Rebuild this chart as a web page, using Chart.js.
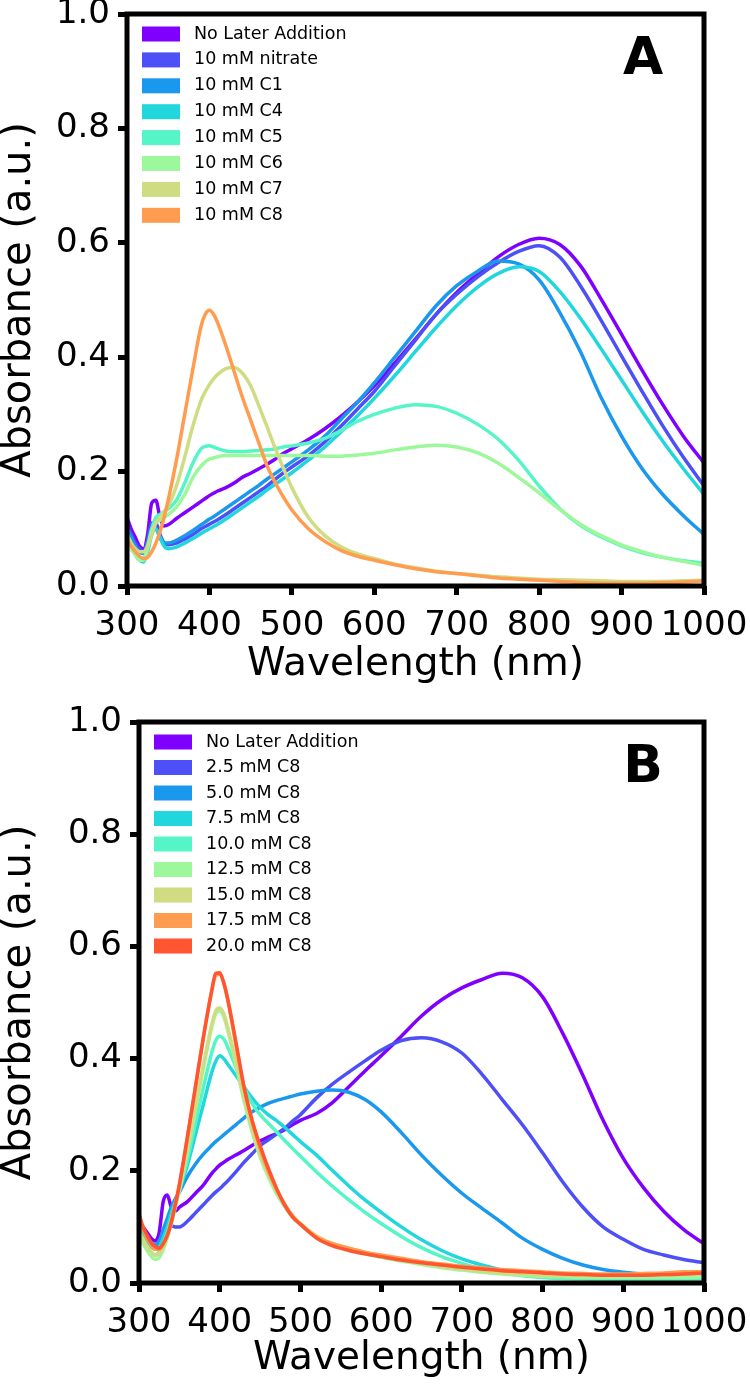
<!DOCTYPE html>
<html>
<head>
<meta charset="utf-8">
<script src="https://cdn.jsdelivr.net/npm/chart.js@4"></script>
<style>
  body { margin: 0; background: #fff; }
  canvas { display: block; }
</style>
</head>
<body>
<canvas id="chartA" width="750" height="694"></canvas>
<canvas id="chartB" width="750" height="694"></canvas>
<script>
// wavelength grid (nm), shared by every spectrum
const wavelengths = [300, 305, 310, 315, 320, 325, 330, 335, 340, 345, 350,
  360, 370, 380, 390, 395, 400, 405, 410,
  420, 430, 440, 450, 460, 470, 480, 490, 500,
  520, 540, 560, 580, 600,
  625, 650, 675, 700, 725, 750, 775, 800, 825, 850, 875, 900, 925, 950, 975, 1000]
const xTicks = [300, 400, 500, 600, 700, 800, 900, 1000]
const yTicks = [0, 0.2, 0.4, 0.6, 0.8, 1.0]

// panel A
const labelsA = ['No Later Addition', '10 mM nitrate', '10 mM C1', '10 mM C4', '10 mM C5', '10 mM C6', '10 mM C7', '10 mM C8']
const aNoAddition = [.12, .10, .085, .07, .065, .09, .145, .15, .12, .105, .107,
  .118, .128, .138, .148, .153, .158, .162, .166,
  .172, .18, .19, .197, .205, .213, .222, .232, .24,
  .256, .275, .297, .322, .35,
  .39, .432, .475, .513, .545, .575, .597, .608, .597, .56, .502, .44, .377, .317, .262, .215]
const aNitrate = [.105, .09, .075, .065, .06, .08, .11, .11, .09, .075, .072,
  .075, .082, .09, .1, .104, .108, .112, .116,
  .125, .135, .145, .155, .165, .175, .187, .198, .208,
  .228, .252, .28, .31, .34,
  .385, .43, .475, .51, .54, .565, .585, .595, .575, .525, .465, .402, .34, .28, .225, .175]
const aC1 = [.1, .085, .07, .06, .057, .075, .1, .1, .085, .075, .075,
  .08, .088, .097, .107, .112, .117, .121, .126,
  .136, .146, .156, .166, .176, .187, .197, .207, .217,
  .238, .262, .292, .322, .355,
  .4, .445, .49, .525, .55, .568, .563, .535, .478, .41, .33, .262, .205, .16, .123, .09]
const aC4 = [.085, .07, .055, .045, .042, .06, .09, .1, .085, .07, .065,
  .068, .075, .083, .092, .096, .1, .104, .108,
  .117, .127, .137, .147, .157, .168, .178, .188, .198,
  .22, .243, .27, .298, .328,
  .368, .41, .452, .49, .522, .546, .558, .55, .515, .468, .415, .36, .305, .253, .205, .16]
const aC5 = [.09, .075, .06, .05, .048, .07, .1, .12, .125, .13, .135,
  .15, .18, .215, .24, .244, .245, .243, .24,
  .236, .235, .235, .236, .237, .238, .24, .243, .245,
  .25, .258, .272, .288, .3,
  .311, .317, .314, .302, .283, .257, .22, .175, .135, .106, .086, .07, .058, .05, .044, .04]
const aC6 = [.08, .065, .055, .045, .045, .065, .095, .11, .115, .12, .125,
  .138, .16, .19, .21, .217, .222, .224, .226,
  .228, .228, .228, .228, .228, .228, .228, .228, .228,
  .228, .227, .227, .229, .232,
  .238, .243, .246, .243, .233, .215, .19, .163, .134, .108, .088, .072, .06, .05, .043, .036]
const aC7 = [.09, .075, .065, .06, .06, .07, .09, .11, .12, .13, .14,
  .175, .225, .28, .325, .34, .352, .362, .37,
  .38, .382, .372, .35, .315, .278, .24, .205, .172,
  .12, .088, .068, .056, .048,
  .038, .032, .026, .022, .019, .016, .014, .012, .011, .01, .009, .008, .008, .008, .009, .01]
const aC8 = [.08, .07, .06, .052, .048, .05, .06, .075, .095, .12, .15,
  .22, .3, .38, .455, .475, .482, .475, .46,
  .42, .375, .33, .29, .25, .21, .18, .155, .133,
  .1, .078, .062, .052, .045,
  .037, .03, .025, .022, .018, .014, .012, .01, .008, .006, .005, .005, .005, .006, .007, .009]

// panel B
const labelsB = ['No Later Addition', '2.5 mM C8', '5.0 mM C8', '7.5 mM C8', '10.0 mM C8', '12.5 mM C8', '15.0 mM C8', '17.5 mM C8', '20.0 mM C8']
const bNoAddition = [.11, .1, .09, .08, .075, .09, .145, .157, .135, .128, .135,
  .145, .16, .175, .195, .203, .21, .215, .22,
  .228, .236, .245, .253, .26, .266, .273, .282, .29,
  .302, .322, .35, .378, .405,
  .44, .476, .505, .526, .541, .552, .544, .51, .445, .37, .29, .222, .17, .128, .095, .07]
const b25 = [.095, .085, .075, .068, .065, .07, .085, .1, .102, .1, .1,
  .11, .125, .14, .155, .162, .168, .175, .182,
  .198, .215, .23, .245, .255, .265, .275, .288, .3,
  .33, .355, .376, .396, .415,
  .432, .437, .43, .41, .372, .327, .282, .232, .18, .135, .1, .078, .06, .05, .042, .036]
const b50 = [.1, .09, .08, .072, .068, .075, .095, .115, .135, .15, .162,
  .19, .212, .23, .245, .252, .258, .264, .27,
  .282, .294, .305, .313, .32, .325, .329, .333, .337,
  .342, .344, .34, .327, .305,
  .268, .228, .192, .16, .133, .107, .08, .06, .044, .032, .024, .019, .016, .015, .014, .013]
const b75 = [.1, .085, .075, .065, .06, .065, .08, .1, .125, .145, .165,
  .21, .265, .32, .375, .395, .405, .4, .39,
  .37, .35, .33, .313, .3, .29, .278, .265, .252,
  .228, .2, .173, .148, .126,
  .1, .077, .058, .043, .032, .023, .016, .012, .01, .009, .008, .008, .008, .008, .008, .008]
const b100 = [.085, .075, .065, .055, .05, .055, .07, .09, .115, .14, .165,
  .22, .285, .35, .41, .432, .44, .435, .42,
  .385, .35, .32, .3, .285, .27, .255, .24, .226,
  .198, .172, .148, .126, .106,
  .083, .063, .047, .035, .025, .018, .013, .01, .008, .007, .006, .006, .006, .006, .006, .006]
const b125 = [.08, .07, .058, .048, .042, .045, .06, .08, .105, .135, .165,
  .235, .31, .385, .455, .48, .485, .475, .45,
  .39, .325, .27, .225, .19, .16, .137, .118, .104,
  .082, .068, .06, .052, .046,
  .039, .033, .027, .023, .019, .016, .014, .012, .011, .01, .01, .01, .01, .01, .01, .011]
const b150 = [.09, .078, .065, .055, .05, .052, .065, .085, .11, .14, .17,
  .24, .315, .39, .46, .485, .49, .48, .455,
  .395, .33, .275, .23, .195, .165, .14, .12, .106,
  .084, .07, .062, .054, .048,
  .041, .035, .029, .025, .021, .018, .016, .014, .013, .013, .013, .013, .013, .014, .015, .016]
const b175 = [.11, .095, .08, .068, .06, .06, .07, .085, .11, .14, .175,
  .26, .35, .44, .52, .548, .55, .535, .505,
  .425, .35, .29, .24, .2, .168, .142, .12, .104,
  .082, .07, .062, .055, .05,
  .044, .038, .034, .03, .027, .024, .022, .02, .018, .017, .016, .016, .017, .018, .02, .02]
const b200 = [.124, .1, .085, .072, .065, .062, .07, .085, .108, .14, .175,
  .26, .35, .44, .52, .552, .553, .535, .505,
  .43, .35, .29, .245, .205, .17, .14, .118, .105,
  .08, .066, .058, .052, .047,
  .041, .036, .032, .028, .025, .022, .02, .018, .016, .015, .014, .014, .014, .015, .016, .018]

const palette = ['#8000ff', '#4d4ff7', '#1a98ee', '#22d6de', '#55f5c8', '#9cf89a', '#d0dc82', '#ff9c50', '#ff5530']

Chart.defaults.font.family = '"DejaVu Sans"'
Chart.defaults.color = '#000'

// frame, in-plot legend and panel letter
const panelPlugin = {
    id: 'panel',
    afterDatasetsDraw(chart, args, opts) {
        const {ctx, chartArea: a} = chart
        ctx.save()
        ctx.strokeStyle = '#000'
        ctx.lineWidth = 5
        ctx.strokeRect(a.left, a.top, a.right - a.left, a.bottom - a.top)

        ctx.font = '17.5px "DejaVu Sans"'
        ctx.textBaseline = 'middle'
        ctx.textAlign = 'left'
        chart.data.datasets.forEach((ds, i) => {
            const y = a.top + 20 + i * opts.rowGap
            ctx.fillStyle = ds.borderColor
            ctx.fillRect(a.left + 15, y - 7.5, 38, 15)
            ctx.fillStyle = '#000'
            ctx.fillText(ds.label, a.left + 67, y)
        })

        ctx.font = 'bold 52px "DejaVu Sans"'
        ctx.textAlign = 'center'
        ctx.fillText(opts.letter, a.right - 61, a.top + 46)
        ctx.restore()
    }
}

function makeChart(id, labels, series, box) {
    new Chart(document.getElementById(id), {
        type: 'line',
        data: {
            datasets: series.map((vals, i) => ({
                label: labels[i],
                data: wavelengths.map((w, j) => ({x: w, y: vals[j]})),
                borderColor: palette[i],
                backgroundColor: palette[i],
                borderWidth: 3.5,
                pointRadius: 0,
                cubicInterpolationMode: 'monotone',
                order: series.length - i
            }))
        },
        options: {
            responsive: false,
            animation: false,
            devicePixelRatio: 1,
            layout: {padding: {top: box.top, right: 46, left: 0, bottom: 0}},
            plugins: {
                legend: {display: false},
                tooltip: {enabled: false},
                panel: {letter: box.letter, rowGap: box.rowGap}
            },
            scales: {
                x: {
                    type: 'linear',
                    min: 300,
                    max: 1000,
                    afterBuildTicks: s => { s.ticks = xTicks.map(v => ({value: v})) },
                    ticks: {font: {size: 34}, padding: 11, maxRotation: 0, autoSkip: false, callback: v => String(v)},
                    grid: {drawOnChartArea: false, color: '#000', tickLength: 9, tickWidth: 5},
                    border: {display: false},
                    title: {display: true, text: 'Wavelength (nm)', font: {size: 39, lineHeight: 1}, padding: {top: 0, bottom: 10}},
                    afterFit: s => { s.height = box.xHeight; s.paddingLeft = 0; s.paddingRight = 0 }
                },
                y: {
                    min: 0,
                    max: 1,
                    afterBuildTicks: s => { s.ticks = yTicks.map(v => ({value: v})) },
                    ticks: {font: {size: 34}, padding: 8, callback: v => v.toFixed(1)},
                    grid: {drawOnChartArea: false, color: '#000', tickLength: 9, tickWidth: 5},
                    border: {display: false},
                    title: {display: true, text: 'Absorbance (a.u.)', font: {size: 40, lineHeight: 1}, padding: 0},
                    afterFit: s => { s.width = box.yWidth; s.paddingTop = 0; s.paddingBottom = 0 }
                }
            }
        },
        plugins: [panelPlugin]
    })
}

makeChart('chartA', labelsA, [aNoAddition, aNitrate, aC1, aC4, aC5, aC6, aC7, aC8],
    {letter: 'A', top: 14, xHeight: 108, yWidth: 127, rowGap: 25.9})
makeChart('chartB', labelsB, [bNoAddition, b25, b50, b75, b100, b125, b150, b175, b200],
    {letter: 'B', top: 28, xHeight: 105, yWidth: 139, rowGap: 25.5})
</script>
</body>
</html>
